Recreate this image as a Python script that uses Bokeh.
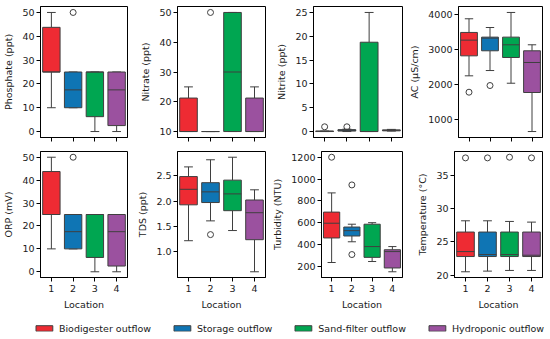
from bokeh.plotting import figure
from bokeh.layouts import column, row
from bokeh.models import (Range1d, FixedTicker, Legend, LegendItem,
                          PrintfTickFormatter, ColumnDataSource)
from bokeh.embed import file_html
from bokeh.resources import INLINE

# ---------------- data ----------------
locations = [1, 2, 3, 4]
series_names = ["Biodigester outflow", "Storage outflow",
                "Sand-filter outflow", "Hydroponic outflow"]
colors = ["#ee2b33", "#0f75b4", "#00a651", "#9b519f"]

phosphate = dict(lo=[10, 10, 0, 0], q1=[25, 10, 6.25, 2.5], med=[25, 17.5, 25, 17.5],
                 q3=[43.75, 25, 25, 25], hi=[50, 25, 25, 25], out=[[], [50], [], []])
nitrate = dict(lo=[10, 10, 10, 10], q1=[10, 10, 10, 10], med=[10, 10, 30, 10],
               q3=[21.25, 10, 50, 21.25], hi=[25, 10, 50, 25], out=[[], [50], [], []])
nitrite = dict(lo=[0, 0, 0, 0.1], q1=[0, 0.1, 0, 0.15], med=[0.05, 0.25, 0, 0.25],
               q3=[0.1, 0.4, 18.75, 0.35], hi=[0.1, 0.5, 25, 0.45], out=[[1.0], [1.0], [], []])
ac = dict(lo=[2250, 2400, 2040, 670], q1=[2817, 2960, 2770, 1777], med=[3262, 3319, 3130, 2628],
          q3=[3480, 3347, 3347, 2960], hi=[3868, 3620, 4047, 3130], out=[[1786], [1975], [], []])
orp = dict(lo=[10, 10, 0, 0], q1=[25, 10, 6.25, 2.5], med=[25, 17.5, 25, 17.5],
           q3=[43.75, 25, 25, 25], hi=[50, 25, 25, 25], out=[[], [50], [], []])
tds = dict(lo=[1.22, 1.61, 1.42, 0.61], q1=[1.925, 1.97, 1.81, 1.24], med=[2.23, 2.18, 2.14, 1.77],
           q3=[2.48, 2.36, 2.41, 2.02], hi=[2.67, 2.81, 2.86, 2.22], out=[[], [1.34], [], []])
turbidity = dict(lo=[235, 425, 244, 150], q1=[460, 478, 282, 185], med=[595, 527, 381, 335],
                 q3=[697, 560, 586, 352], hi=[873, 586, 600, 381], out=[[1200], [946, 308], [], []])
temperature = dict(lo=[20.5, 20.6, 20.7, 20.7], q1=[22.8, 22.8, 22.8, 22.8], med=[23.55, 23.1, 23.1, 23.0],
                   q3=[26.5, 26.5, 26.5, 26.5], hi=[28.2, 28.2, 28.1, 28.0],
                   out=[[37.7], [37.7], [37.8], [37.7]])

phosphate_ticks = [0, 10, 20, 30, 40, 50]
nitrate_ticks = [10, 20, 30, 40, 50]
nitrite_ticks = [0, 5, 10, 15, 20, 25]
ac_ticks = [1000, 2000, 3000, 4000]
orp_ticks = [0, 10, 20, 30, 40, 50]
tds_ticks = [1.0, 1.5, 2.0, 2.5]
turbidity_ticks = [200, 400, 600, 800, 1000, 1200]
temperature_ticks = [20, 25, 30, 35]

# ---------------- style ----------------
FONT = "DejaVu Sans"
EDGE = "#3f3f3f"
TXT = "#1a1a1a"
BOX_W = 0.8
CAP_W = 0.4

col_widths = [131, 138, 137, 143]
col_left = [39, 46, 44, 48]
col_right = [4, 4, 4, 7]


def panel(stats, ylabel, yticks, fmt, ci, bottom_row):
    vals = stats["lo"] + stats["hi"] + [v for o in stats["out"] for v in o]
    vmin, vmax = min(vals), max(vals)
    pad = 0.05 * (vmax - vmin)
    if bottom_row:
        h, bt, bb = 167, 6, 29
    else:
        h, bt, bb = 145, 6, 8
    p = figure(width=col_widths[ci], height=h, output_backend="svg",
               toolbar_location=None,
               x_range=Range1d(0.5, 4.5), y_range=Range1d(vmin - pad, vmax + pad),
               min_border=0, min_border_left=col_left[ci], min_border_right=col_right[ci],
               min_border_top=bt, min_border_bottom=bb)
    p.grid.visible = False
    p.outline_line_color = "black"
    p.outline_line_width = 1
    p.background_fill_color = "white"
    p.border_fill_color = "white"

    x = locations
    src = ColumnDataSource(dict(
        x=x, lo=stats["lo"], q1=stats["q1"], med=stats["med"], q3=stats["q3"], hi=stats["hi"],
        color=colors,
        bl=[v - BOX_W / 2 for v in x], br=[v + BOX_W / 2 for v in x],
        cl=[v - CAP_W / 2 for v in x], cr=[v + CAP_W / 2 for v in x]))
    p.segment(x0="x", y0="q3", x1="x", y1="hi", source=src, line_color=EDGE, line_width=1)
    p.segment(x0="x", y0="q1", x1="x", y1="lo", source=src, line_color=EDGE, line_width=1)
    p.segment(x0="cl", y0="hi", x1="cr", y1="hi", source=src, line_color=EDGE, line_width=1)
    p.segment(x0="cl", y0="lo", x1="cr", y1="lo", source=src, line_color=EDGE, line_width=1)
    p.vbar(x="x", bottom="q1", top="q3", width=BOX_W, source=src,
           fill_color="color", line_color=EDGE, line_width=1)
    p.segment(x0="bl", y0="med", x1="br", y1="med", source=src, line_color=EDGE, line_width=1)

    ox, oy = [], []
    for xi, o in zip(x, stats["out"]):
        for v in o:
            ox.append(xi)
            oy.append(v)
    if ox:
        p.scatter(ox, oy, size=6, marker="circle", fill_color=None,
                  line_color=EDGE, line_width=1)

    for ax in (p.xaxis[0], p.yaxis[0]):
        ax.axis_line_color = "black"
        ax.major_tick_line_color = "black"
        ax.major_tick_in = 0
        ax.major_tick_out = 4
        ax.minor_tick_line_color = None
        ax.major_label_text_font = FONT
        ax.major_label_text_font_size = "9.5px"
        ax.major_label_text_color = TXT
        ax.major_label_standoff = 2
        ax.axis_label_text_font = FONT
        ax.axis_label_text_font_size = "9.5px"
        ax.axis_label_text_font_style = "normal"
        ax.axis_label_text_color = TXT
        ax.axis_label_standoff = 4

    p.yaxis.ticker = FixedTicker(ticks=yticks)
    p.yaxis.formatter = PrintfTickFormatter(format=fmt)
    p.yaxis.axis_label = ylabel
    p.yaxis.axis_label_standoff = 5
    p.xaxis.ticker = FixedTicker(ticks=locations)
    if bottom_row:
        p.xaxis.axis_label = "Location"
        p.xaxis.major_label_standoff = 3
    else:
        p.xaxis.major_label_text_color = None
        p.xaxis.major_label_text_font_size = "0px"
        p.xaxis.major_label_standoff = 0
    return p


top = [
    panel(phosphate, "Phosphate (ppt)", phosphate_ticks, "%d", 0, False),
    panel(nitrate, "Nitrate (ppt)", nitrate_ticks, "%d", 1, False),
    panel(nitrite, "Nitrite (ppt)", nitrite_ticks, "%d", 2, False),
    panel(ac, "AC (µS/cm)", ac_ticks, "%d", 3, False),
]
bottom = [
    panel(orp, "ORP (mV)", orp_ticks, "%d", 0, True),
    panel(tds, "TDS (ppt)", tds_ticks, "%.1f", 1, True),
    panel(turbidity, "Turbidity (NTU)", turbidity_ticks, "%d", 2, True),
    panel(temperature, "Temperature (°C)", temperature_ticks, "%d", 3, True),
]

# legend strip
lf = figure(width=549, height=26, output_backend="svg", toolbar_location=None,
            x_range=Range1d(0, 1), y_range=Range1d(0, 1), min_border=0,
            min_border_left=28, min_border_top=5,
            x_axis_location=None, y_axis_location=None)
lf.grid.visible = False
lf.outline_line_color = None
items = []
for name, c in zip(series_names, colors):
    r = lf.vbar(x=[5], top=[5], bottom=[4], width=0.1, fill_color=c,
                line_color=EDGE, line_width=1)
    items.append(LegendItem(label=name, renderers=[r]))
leg = Legend(items=items, orientation="horizontal", location="center",
             glyph_width=21, glyph_height=7, label_standoff=5, spacing=20,
             padding=0, margin=0, border_line_color=None, background_fill_alpha=0,
             label_text_font=FONT, label_text_font_size="9.5px", label_text_color=TXT,
             label_height=10)
lf.add_layout(leg, "center")

layout = column(row(*top), row(*bottom), lf)
open("out.html", "w").write(file_html(layout, INLINE))
